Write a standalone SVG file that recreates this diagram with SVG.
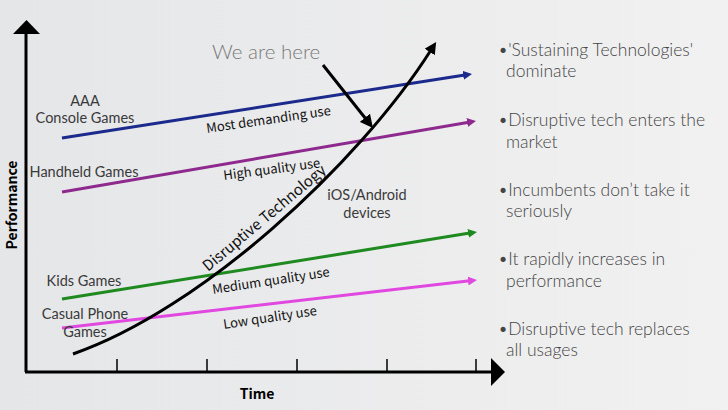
<svg xmlns="http://www.w3.org/2000/svg" width="728" height="410" viewBox="0 0 728 410">
  <defs>
    <linearGradient id="bg" x1="0" y1="0" x2="1" y2="0">
      <stop offset="0" stop-color="#e5e6e8"/>
      <stop offset="1" stop-color="#f1f1f1"/>
    </linearGradient>
    <marker id="mBlue" viewBox="0 0 10 10" markerUnits="userSpaceOnUse" markerWidth="9" markerHeight="9" refX="2" refY="5" orient="auto"><path d="M0,0 L10,5 L0,10 z" fill="#1b2a8c"/></marker>
    <marker id="mPurple" viewBox="0 0 10 10" markerUnits="userSpaceOnUse" markerWidth="9" markerHeight="9" refX="2" refY="5" orient="auto"><path d="M0,0 L10,5 L0,10 z" fill="#8e2a8e"/></marker>
    <marker id="mGreen" viewBox="0 0 10 10" markerUnits="userSpaceOnUse" markerWidth="9" markerHeight="9" refX="2" refY="5" orient="auto"><path d="M0,0 L10,5 L0,10 z" fill="#1f8a1f"/></marker>
    <marker id="mPink" viewBox="0 0 10 10" markerUnits="userSpaceOnUse" markerWidth="9" markerHeight="9" refX="2" refY="5" orient="auto"><path d="M0,0 L10,5 L0,10 z" fill="#e048e0"/></marker>
    <marker id="mBlack" viewBox="0 0 10 10" markerUnits="userSpaceOnUse" markerWidth="12" markerHeight="12" refX="2" refY="5" orient="auto"><path d="M0,0 L10,5 L0,10 z" fill="#000"/></marker>
    <marker id="mBlack2" viewBox="0 0 10 10" markerUnits="userSpaceOnUse" markerWidth="13" markerHeight="13" refX="2" refY="5" orient="auto"><path d="M0,0 L10,5 L0,10 z" fill="#000"/></marker>
  </defs>
  <style>
    .lbl { font-family: Lato, "Open Sans", "Liberation Sans", sans-serif; font-size: 14.5px; fill: #3a3a3a; }
    .use { font-family: "Noto Sans CJK JP", "Noto Sans", sans-serif; font-size: 13px; fill: #111; }
    .dis { font-family: "Noto Sans CJK JP", "Noto Sans", sans-serif; font-size: 15px; fill: #111; }
    .axl { font-family: "Noto Sans CJK JP", "Noto Sans", sans-serif; font-size: 14px; font-weight: bold; fill: #000; }
    .bul { font-family: Lato, "Open Sans", "Liberation Sans", sans-serif; font-weight: 300; font-size: 17.5px; fill: #454545; }
    .here { font-family: Lato, "Open Sans", "Liberation Sans", sans-serif; font-weight: 300; font-size: 20.5px; fill: #7a7a7a; }
    .ln { fill: none; stroke-width: 3; }
    .tick { stroke: #000; stroke-width: 1.5; }
  </style>
  <rect x="0" y="0" width="728" height="410" fill="url(#bg)"/>

  <g id="axes">
    <line x1="26" y1="372" x2="26" y2="33" stroke="#000" stroke-width="3"/>
    <polygon points="13,34 40,34 26.5,20" fill="#000"/>
    <line x1="25" y1="372" x2="492" y2="372" stroke="#000" stroke-width="3"/>
    <polygon points="491,358 505,372 491,386" fill="#000"/>
    <line class="tick" x1="117" y1="359" x2="117" y2="372"/>
    <line class="tick" x1="207" y1="359" x2="207" y2="372"/>
    <line class="tick" x1="297" y1="359" x2="297" y2="372"/>
    <line class="tick" x1="387" y1="359" x2="387" y2="372"/>
    <line class="tick" x1="476" y1="359" x2="476" y2="372"/>
    <text class="axl" x="257" y="399" text-anchor="middle">Time</text>
    <text class="axl" transform="translate(17,205) rotate(-90)" text-anchor="middle">Performance</text>
  </g>

  <g id="connectors">
    <line id="blue" class="ln" x1="62" y1="138" x2="464.9" y2="75.1" stroke="#1b2a8c" marker-end="url(#mBlue)"/>
    <line id="purple" class="ln" x1="62" y1="192" x2="468.9" y2="122.2" stroke="#8e2a8e" marker-end="url(#mPurple)"/>
    <line id="green" class="ln" x1="62" y1="299" x2="469.9" y2="233.1" stroke="#1f8a1f" marker-end="url(#mGreen)"/>
    <line id="pink" class="ln" x1="62" y1="328" x2="469.8" y2="280.8" stroke="#e048e0" marker-end="url(#mPink)"/>
    <path id="disruptive" class="ln" d="M73,354 C200,310 358,165 431,50" stroke="#000" marker-end="url(#mBlack)"/>
    <line id="hereArrow" class="ln" x1="323" y1="65" x2="366.5" y2="119.8" stroke="#000" marker-end="url(#mBlack2)"/>
  </g>

  <g id="labels">
    <text class="lbl" x="85" y="106" text-anchor="middle">AAA</text>
    <text class="lbl" x="85" y="123" text-anchor="middle">Console Games</text>
    <text class="lbl" x="84" y="177" text-anchor="middle">Handheld Games</text>
    <text class="lbl" x="84" y="286" text-anchor="middle">Kids Games</text>
    <text class="lbl" x="85" y="319" text-anchor="middle">Casual Phone</text>
    <text class="lbl" x="85" y="337" text-anchor="middle">Games</text>
    <text class="lbl" x="367" y="200" text-anchor="middle">iOS/Android</text>
    <text class="lbl" x="367" y="218" text-anchor="middle">devices</text>
    <text class="here" x="212" y="59">We are here</text>
  </g>

  <g id="useLabels">
    <text class="use" transform="translate(207,133) rotate(-8.3)">Most demanding use</text>
    <text class="use" transform="translate(224,180) rotate(-7.5)">High quality use</text>
    <text class="use" transform="translate(213,294) rotate(-8.6)">Medium quality use</text>
    <text class="use" transform="translate(224,329) rotate(-8.6)">Low quality use</text>
    <text class="dis" transform="translate(208,272) rotate(-40)">Disruptive Technology</text>
  </g>

  <g id="bullets">
    <text class="bul" x="498" y="56">•'Sustaining Technologies'</text>
    <text class="bul" x="506" y="77">dominate</text>
    <text class="bul" x="498" y="126">•Disruptive tech enters the</text>
    <text class="bul" x="506" y="148">market</text>
    <text class="bul" x="498" y="196">•Incumbents don’t take it</text>
    <text class="bul" x="506" y="217">seriously</text>
    <text class="bul" x="498" y="265">•It rapidly increases in</text>
    <text class="bul" x="506" y="287">performance</text>
    <text class="bul" x="498" y="335">•Disruptive tech replaces</text>
    <text class="bul" x="506" y="356">all usages</text>
  </g>
</svg>
